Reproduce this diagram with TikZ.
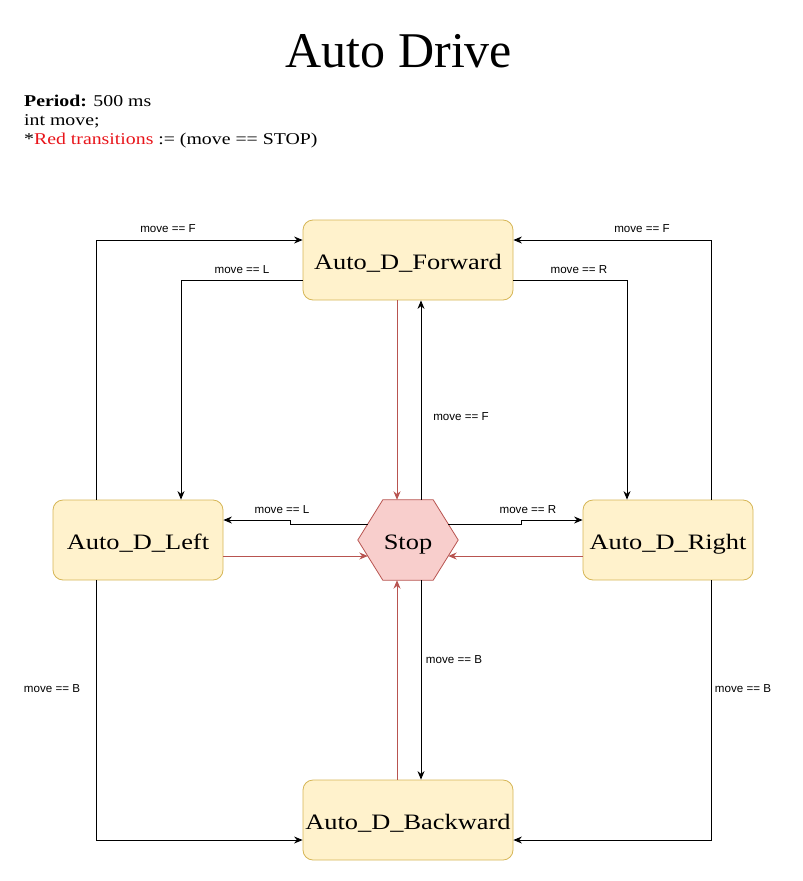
\documentclass[tikz,border=0pt]{standalone}
\usepackage{fontspec}
\setmainfont{Liberation Serif}
\newfontfamily\nodefont[FakeStretch=1.2]{Liberation Serif}
\newfontfamily\lblfont{Liberation Sans}
\usetikzlibrary{arrows.meta,calc,backgrounds}
\definecolor{boxfill}{HTML}{FFF2CC}
\definecolor{boxline}{HTML}{D6B656}
\definecolor{stopfill}{HTML}{F8CECC}
\definecolor{stopline}{HTML}{B85450}
\definecolor{redtxt}{HTML}{E8141A}
\tikzset{
  statebox/.style={draw=boxline, fill=boxfill, line width=0.8pt, rounded corners=10pt,
    minimum height=80pt, inner sep=0pt, text height=22pt, text depth=4pt,
    font=\nodefont\fontsize{22}{26}\selectfont},
  widebox/.style={statebox, minimum width=210pt},
  sidebox/.style={statebox, minimum width=170pt},
  hexbox/.style={minimum width=100pt, minimum height=80pt, inner sep=0pt,
    text height=22pt, text depth=4pt, font=\nodefont\fontsize{22}{26}\selectfont},
  arr/.style={draw=black, line width=0.9pt, -{Stealth[length=8.5pt,width=7pt]}},
  redarr/.style={draw=stopline, line width=0.9pt, -{Stealth[length=8.5pt,width=7pt]}},
  lbl/.style={font=\lblfont\fontsize{11.6}{13}\selectfont, inner sep=0pt},
  hdr/.style={anchor=base west, inner sep=0pt, font=\nodefont\fontsize{16.5}{19}\selectfont},
}
\begin{document}
\begin{tikzpicture}[x=1pt,y=-1pt]
\useasboundingbox (0,0) rectangle (803,881);

\node[font=\fontsize{50}{54}\selectfont, anchor=base, inner sep=0pt] (title) at (399,67) {Auto Drive};
\node[hdr] (hdr1) at (24,106) {\textbf{Period:} 500 ms};
\node[hdr] (hdr2) at (24,125) {int move;};
\node[hdr] (hdr3) at (24,144) {*\textcolor{redtxt}{Red transitions} := (move == STOP)};

\node[widebox] (forward) at (408,260) {Auto\_D\_Forward};
\node[sidebox] (left) at (138,540) {Auto\_D\_Left};
\node[sidebox] (right) at (668,540) {Auto\_D\_Right};
\node[widebox] (backward) at (408,820) {Auto\_D\_Backward};
\node[hexbox] (stop) at (408,540) {Stop};
\begin{scope}[on background layer]
\draw[draw=stopline, fill=stopfill, line width=0.8pt]
  (stop.west) -- ([xshift=25pt]stop.north west) -- ([xshift=-25pt]stop.north east)
  -- (stop.east) -- ([xshift=-25pt]stop.south east) -- ([xshift=25pt]stop.south west) -- cycle;
\end{scope}

% outer loops to Forward
\draw[arr] ([xshift=-42pt]left.north) |- ([yshift=20pt]forward.west);
\draw[arr] ([xshift=43pt]right.north) |- ([yshift=20pt]forward.east);
% Forward to Left / Right
\draw[arr] ([yshift=-20pt]forward.west) -| ([xshift=43pt]left.north);
\draw[arr] ([yshift=-20pt]forward.east) -| ([xshift=-41pt]right.north);
% Forward <-> Stop
\draw[redarr] ([xshift=-11pt]forward.south) -- ([xshift=-11pt]stop.north);
\draw[arr] ([xshift=13pt]stop.north) -- ([xshift=13pt]forward.south);
% Stop -> Left / Right
\draw[arr] ([xshift=10pt,yshift=16pt]stop.west) -- ++(-77pt,0) -- ++(0,4pt) -- ([yshift=20pt]left.east);
\draw[arr] ([xshift=-10pt,yshift=16pt]stop.east) -- ++(73pt,0) -- ++(0,4pt) -- ([yshift=20pt]right.west);
% Left / Right -> Stop
\draw[redarr] ([yshift=-16pt]left.east) -- ([xshift=10pt,yshift=-16pt]stop.west);
\draw[redarr] ([yshift=-16pt]right.west) -- ([xshift=-10pt,yshift=-16pt]stop.east);
% Backward <-> Stop
\draw[redarr] ([xshift=-11pt]backward.north) -- ([xshift=-11pt]stop.south);
\draw[arr] ([xshift=13pt]stop.south) -- ([xshift=13pt]backward.north);
% outer loops to Backward
\draw[arr] ([xshift=-42pt]left.south) |- ([yshift=-20pt]backward.west);
\draw[arr] ([xshift=43pt]right.south) |- ([yshift=-20pt]backward.east);

% labels
\node[lbl] (l1) at (168,229) {move == F};
\node[lbl] (l2) at (642,229) {move == F};
\node[lbl] (l3) at (242,270) {move == L};
\node[lbl] (l4) at (579,270) {move == R};
\node[lbl] (l5) at (461,417) {move == F};
\node[lbl] (l6) at (282,510) {move == L};
\node[lbl] (l7) at (528,510) {move == R};
\node[lbl] (l8) at (454,660) {move == B};
\node[lbl] (l9) at (52,689) {move == B};
\node[lbl] (l10) at (743,689) {move == B};
\end{tikzpicture}
\end{document}
